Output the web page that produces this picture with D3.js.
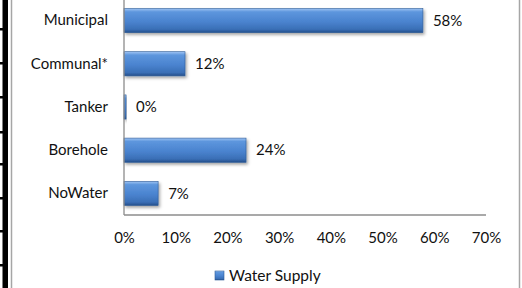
<!DOCTYPE html>
<html lang="en">
<head>
    <meta charset="UTF-8">
    <title>Water Supply</title>
    <script src="https://d3js.org/d3.v7.min.js"></script>
    <style>
        body { margin: 0; background: #fff; }
        svg { display: block; }
        text { font-family: Lato, "Open Sans", sans-serif; fill: #111; }
        .axis text { font-size: 15px; }
        .axis path { stroke: #8c8c8c; stroke-width: 1.3; }
        .vlabel { font-size: 15px; }
        .legend text { font-size: 15.5px; }
    </style>
</head>
<body>
    <svg id="chart" width="522" height="288"></svg>

    <script>
        // data (percent)
        var categories = ["Municipal", "Communal*", "Tanker", "Borehole", "NoWater"];
        var values = [57.8, 11.8, 0.4, 23.6, 6.6];
        var xTicks = [0, 10, 20, 30, 40, 50, 60, 70];
        var seriesName = "Water Supply";

        var svg = d3.select("#chart");

        // plot area (note: "top" is taken by window.top, so use other names)
        var plotLeft = 124, plotRight = 486, plotTop = -1, plotBottom = 215;

        var x = d3.scaleLinear().domain([0, 70]).range([plotLeft, plotRight]);
        var y = d3.scaleBand().domain(categories).range([plotTop, plotBottom]).paddingInner(0.44).paddingOuter(0.22);

        // bits of the table frame that show at the left edge
        var frame = svg.append("g");
        frame.append("rect").attr("x", 2.5).attr("y", 0).attr("width", 5.5).attr("height", 288).attr("fill", "#000");
        [29, 63, 97, 132, 164, 198, 231, 265].forEach(function (yy) {
            frame.append("rect").attr("x", 0).attr("y", yy - 1).attr("width", 4).attr("height", 2.5).attr("fill", "#000");
        });
        // chart border
        svg.append("line").attr("x1", 11.5).attr("x2", 11.5).attr("y1", 0).attr("y2", 288)
            .attr("stroke", "#a6a6a6").attr("stroke-width", 1.5);
        svg.append("line").attr("x1", 519.5).attr("x2", 519.5).attr("y1", 0).attr("y2", 288)
            .attr("stroke", "#a6a6a6").attr("stroke-width", 1.5);

        // gradient + shadow for the bevelled bars
        var defs = svg.append("defs");
        var grad = defs.append("linearGradient").attr("id", "barGrad")
            .attr("x1", 0).attr("y1", 0).attr("x2", 0).attr("y2", 1);
        grad.append("stop").attr("offset", "0%").attr("stop-color", "#9fc4f3");
        grad.append("stop").attr("offset", "14%").attr("stop-color", "#5d96dd");
        grad.append("stop").attr("offset", "55%").attr("stop-color", "#4a83cf");
        grad.append("stop").attr("offset", "86%").attr("stop-color", "#3a6fb6");
        grad.append("stop").attr("offset", "100%").attr("stop-color", "#244f8a");
        var shadow = defs.append("filter").attr("id", "shadow")
            .attr("x", "-10%").attr("y", "-20%").attr("width", "130%").attr("height", "160%");
        shadow.append("feDropShadow").attr("dx", 1.5).attr("dy", 2).attr("stdDeviation", 1.5)
            .attr("flood-color", "#000").attr("flood-opacity", 0.35);

        var data = categories.map(function (c, i) { return { cat: c, v: values[i] }; });

        // bars
        svg.selectAll(".bar")
            .data(data)
            .enter().append("rect")
            .attr("class", "bar")
            .attr("x", x(0))
            .attr("y", function (d) { return y(d.cat); })
            .attr("width", function (d) { return x(d.v) - x(0); })
            .attr("height", y.bandwidth())
            .attr("fill", "url(#barGrad)")
            .attr("stroke", "#2d5a96")
            .attr("stroke-width", 0.6)
            .attr("filter", "url(#shadow)");

        // value labels
        svg.selectAll(".vlabel")
            .data(data)
            .enter().append("text")
            .attr("class", "vlabel")
            .attr("x", function (d) { return x(d.v) + 10; })
            .attr("y", function (d) { return y(d.cat) + y.bandwidth() / 2; })
            .attr("dy", "0.35em")
            .text(function (d) { return Math.round(d.v) + "%"; });

        // y axis
        var yAxis = svg.append("g")
            .attr("class", "axis")
            .attr("transform", "translate(" + plotLeft + ",0)")
            .call(d3.axisLeft(y).tickSize(0).tickPadding(16));
        yAxis.select(".domain").attr("d", "M0," + plotTop + "V" + plotBottom);

        // x axis
        var xAxis = svg.append("g")
            .attr("class", "axis")
            .attr("transform", "translate(0," + plotBottom + ")")
            .call(d3.axisBottom(x).tickValues(xTicks).tickSize(0).tickPadding(17)
                .tickFormat(function (d) { return d + "%"; }));
        xAxis.select(".domain").attr("d", "M" + plotLeft + ",0H" + plotRight);

        // legend
        var legend = svg.append("g").attr("class", "legend");
        legend.append("rect").attr("x", 215).attr("y", 271).attr("width", 9).attr("height", 9)
            .attr("fill", "url(#barGrad)").attr("stroke", "#2d5a96").attr("stroke-width", 0.6);
        legend.append("text").attr("x", 229).attr("y", 276).attr("dy", "0.35em").text(seriesName);
    </script>
</body>
</html>
